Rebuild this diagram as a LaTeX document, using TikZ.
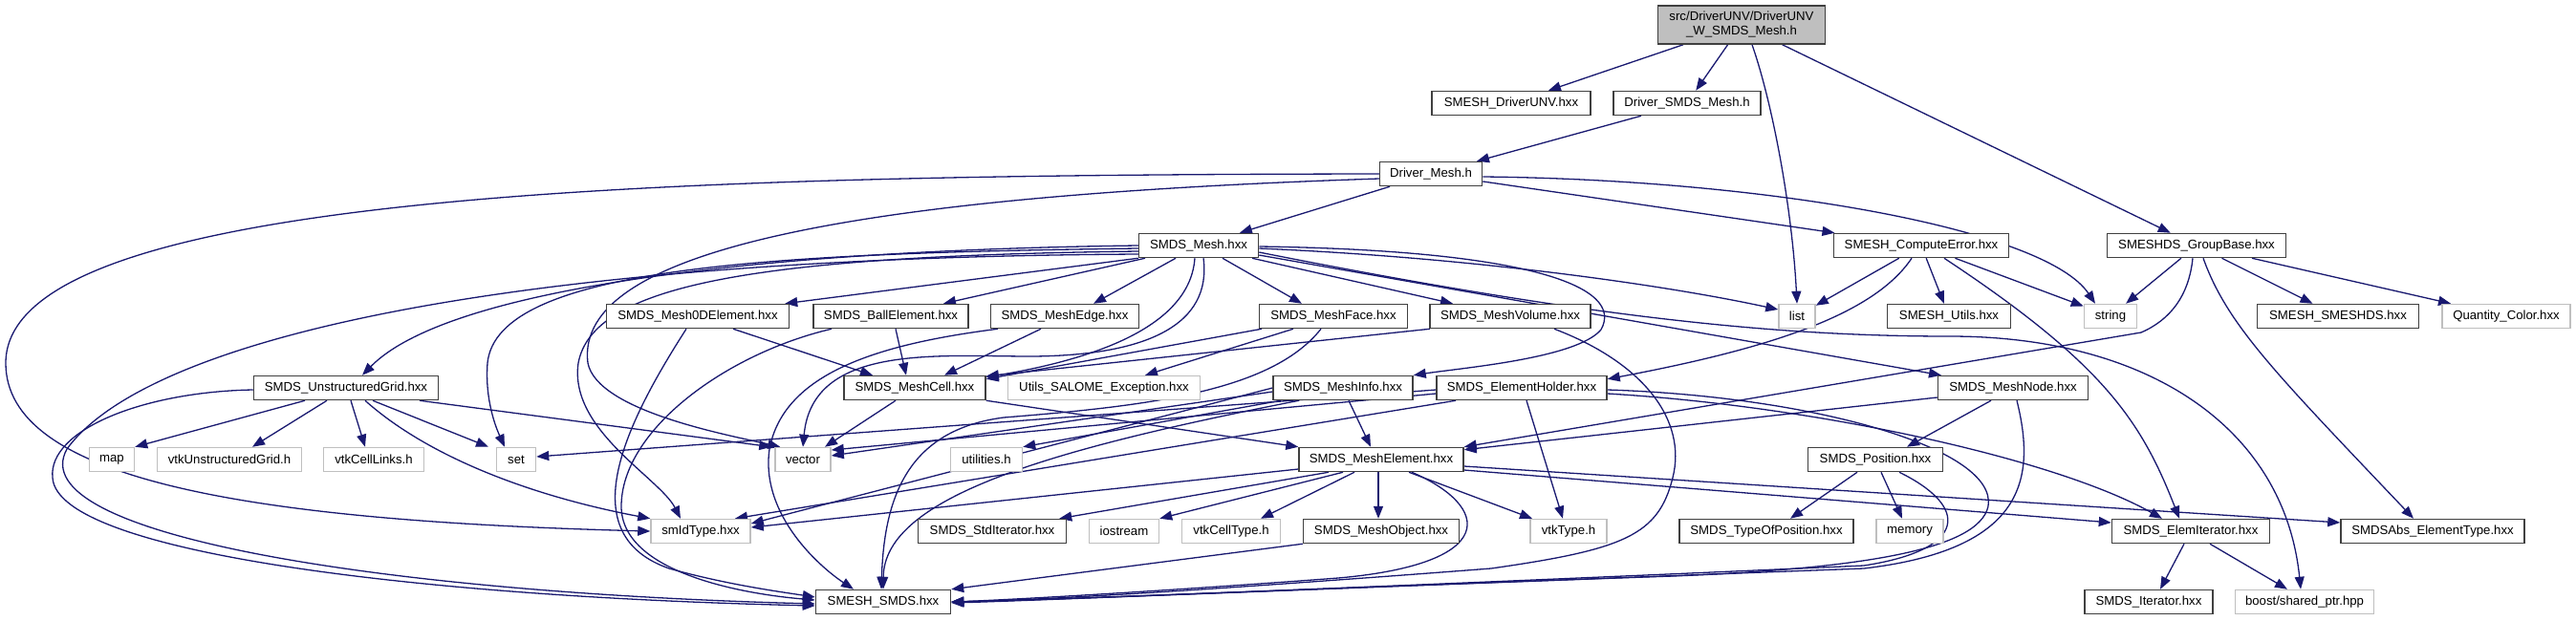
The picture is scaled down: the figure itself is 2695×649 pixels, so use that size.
\documentclass[tikz,border=0pt]{standalone}
\usepackage{fontspec}
\setmainfont{Liberation Sans}
\usetikzlibrary{arrows.meta}
\definecolor{edgeblue}{HTML}{191970}
\definecolor{rootgray}{HTML}{BFBFBF}
\definecolor{sysgray}{HTML}{BFBFBF}
\definecolor{boxline}{HTML}{404040}
\pgfdeclarelayer{bg}
\pgfsetlayers{bg,main}

\begin{document}
\begin{tikzpicture}[x=1pt,y=-1pt,
  hdr/.style={draw=boxline,line width=1.5pt,fill=white,inner sep=0pt,
    minimum height=25pt,font=\fontsize{13.2}{15}\selectfont},
  sys/.style={hdr,draw=sysgray},
  inc/.style={color=edgeblue,line width=1.3pt,-{Triangle[length=13pt,width=10pt]}}
]
\useasboundingbox (0,0) rectangle (2695,649);

% rows 1-3
\node[hdr,fill=rootgray,minimum width=175pt,minimum height=40pt,align=center] (root) at (1822,26) {src/DriverUNV/DriverUNV\\\_W\_SMDS\_Mesh.h};
\node[hdr,minimum width=166pt] (drvunv) at (1581,108) {SMESH\_DriverUNV.hxx};
\node[hdr,minimum width=154pt] (drvsmds) at (1765,108) {Driver\_SMDS\_Mesh.h};
\node[hdr,minimum width=107pt] (drvmesh) at (1497,182) {Driver\_Mesh.h};

% row 4
\node[hdr,minimum width=125pt] (mesh) at (1254,257) {SMDS\_Mesh.hxx};
\node[hdr,minimum width=183pt] (comperr) at (2010,257) {SMESH\_ComputeError.hxx};
\node[hdr,minimum width=187pt] (grpbase) at (2298,257) {SMESHDS\_GroupBase.hxx};

% row 5
\node[hdr,minimum width=191pt] (m0d) at (730,331) {SMDS\_Mesh0DElement.hxx};
\node[hdr,minimum width=162pt] (ball) at (932,331) {SMDS\_BallElement.hxx};
\node[hdr,minimum width=155pt] (edge) at (1114,331) {SMDS\_MeshEdge.hxx};
\node[hdr,minimum width=155pt] (face) at (1395,331) {SMDS\_MeshFace.hxx};
\node[hdr,minimum width=168pt] (volume) at (1580,331) {SMDS\_MeshVolume.hxx};
\node[sys,minimum width=38pt] (list) at (1880,331) {list};
\node[hdr,minimum width=129pt] (utils) at (2039,331) {SMESH\_Utils.hxx};
\node[sys,minimum width=55pt] (string) at (2208,331) {string};
\node[hdr,minimum width=169pt] (smeshds) at (2446,331) {SMESH\_SMESHDS.hxx};
\node[sys,minimum width=134pt] (qcolor) at (2622,331) {Quantity\_Color.hxx};

% row 6
\node[hdr,minimum width=193pt] (ugrid) at (362,406) {SMDS\_UnstructuredGrid.hxx};
\node[hdr,minimum width=148pt] (cell) at (957,406) {SMDS\_MeshCell.hxx};
\node[sys,minimum width=201pt] (exc) at (1155,406) {Utils\_SALOME\_Exception.hxx};
\node[hdr,minimum width=146pt] (info) at (1405,406) {SMDS\_MeshInfo.hxx};
\node[hdr,minimum width=178pt] (holder) at (1592,406) {SMDS\_ElementHolder.hxx};
\node[hdr,minimum width=157pt] (node) at (2106,406) {SMDS\_MeshNode.hxx};

% row 7
\node[sys,minimum width=47pt] (map) at (117,481) {map};
\node[sys,minimum width=151pt] (vtkug) at (240,481) {vtkUnstructuredGrid.h};
\node[sys,minimum width=105pt] (links) at (391,481) {vtkCellLinks.h};
\node[sys,minimum width=41pt] (set) at (540,481) {set};
\node[sys,minimum width=58pt] (vector) at (840,481) {vector};
\node[sys,minimum width=75pt] (utilities) at (1032,481) {utilities.h};
\node[hdr,minimum width=172pt] (elem) at (1445,481) {SMDS\_MeshElement.hxx};
\node[hdr,minimum width=141pt] (pos) at (1962,481) {SMDS\_Position.hxx};

% row 8
\node[sys,minimum width=104pt] (idtype) at (733,556) {smIdType.hxx};
\node[hdr,minimum width=155pt] (stditer) at (1038,556) {SMDS\_StdIterator.hxx};
\node[sys,minimum width=73pt] (iostream) at (1176,556) {iostream};
\node[sys,minimum width=103pt] (celltype) at (1288,556) {vtkCellType.h};
\node[hdr,minimum width=163pt] (object) at (1445,556) {SMDS\_MeshObject.hxx};
\node[sys,minimum width=80pt] (vtktype) at (1641,556) {vtkType.h};
\node[hdr,minimum width=182pt] (typepos) at (1848,556) {SMDS\_TypeOfPosition.hxx};
\node[sys,minimum width=70pt] (memory) at (1998,556) {memory};
\node[hdr,minimum width=165pt] (elemiter) at (2292,556) {SMDS\_ElemIterator.hxx};
\node[hdr,minimum width=192pt] (abstype) at (2545,556) {SMDSAbs\_ElementType.hxx};

% row 9
\node[hdr,minimum width=141pt] (smds) at (924,630) {SMESH\_SMDS.hxx};
\node[hdr,minimum width=134pt] (iter) at (2248,630) {SMDS\_Iterator.hxx};
\node[sys,minimum width=145pt] (sharedptr) at (2411,630) {boost/shared\_ptr.hpp};

\begin{pgfonlayer}{bg}
\fill[white] (0,0) rectangle (2695,649);
% top part
\draw[inc] (root) -- (drvunv);
\draw[inc] (root) -- (drvsmds);
\draw[inc] ([xshift=11pt]root.south) .. controls (1855,110) and (1875,220) .. (list.north);
\draw[inc] (root) -- (grpbase);
\draw[inc] (drvsmds) -- (drvmesh);
\draw[inc] (drvmesh) -- (mesh);
\draw[inc] (drvmesh) -- (comperr);
\draw[inc] ([yshift=-3pt]drvmesh.east) .. controls (1850,188) and (2140,240) .. ([xshift=-16pt]string.north);
\draw[inc] ([yshift=-5pt]drvmesh.west) .. controls (900,205) and (600,260) .. (615,380) .. controls (625,430) and (760,455) .. ([xshift=6pt]vector.north west);
\draw[inc] (drvmesh.west) .. controls (700,183) and (6,200) .. (6,380) .. controls (6,500) and (250,545) .. (idtype.west);

% compute error, group base
\draw[inc] (comperr) -- (list);
\draw[inc] (comperr) -- (utils);
\draw[inc] (comperr) -- (string);
\draw[inc] ([xshift=-10pt]comperr.south) .. controls (1960,330) and (1850,365) .. ([yshift=-4pt]holder.north east);
\draw[inc] ([xshift=24pt]comperr.south) .. controls (2200,380) and (2240,440) .. ([xshift=-12pt]elemiter.north);
\draw[inc] (grpbase) -- (string);
\draw[inc] (grpbase) -- (smeshds);
\draw[inc] (grpbase) -- (qcolor);
\draw[inc] ([xshift=-4pt]grpbase.south) .. controls (2290,310) and (2270,335) .. (2240,348) -- (elem.north east);
\draw[inc] ([xshift=7pt]grpbase.south) .. controls (2330,340) and (2380,390) .. ([xshift=-20pt]abstype.north);

% SMDS_Mesh
\draw[inc] (mesh.south west) -- ([xshift=-5pt]m0d.north east);
\draw[inc] ([xshift=-56pt]mesh.south) -- ([xshift=55pt]ball.north);
\draw[inc] ([xshift=-24pt]mesh.south) -- ([xshift=30pt]edge.north);
\draw[inc] ([xshift=25pt]mesh.south) -- ([xshift=-33pt]face.north);
\draw[inc] ([xshift=56pt]mesh.south) -- ([xshift=-60pt]volume.north);
\draw[inc] ([xshift=-4pt]mesh.south) .. controls (1245,340) and (1150,375) .. ([yshift=-2pt]cell.north east);
\draw[inc] ([xshift=5pt]mesh.south) .. controls (1268,340) and (1200,372) .. (1080,373) .. controls (980,373) and (850,360) .. (vector.north);
\draw[inc] (mesh.west) .. controls (800,262) and (470,300) .. ([xshift=17pt]ugrid.north);
\draw[inc] ([yshift=-3pt]mesh.west) .. controls (800,265) and (520,280) .. (510,380) .. controls (507,420) and (520,450) .. ([xshift=-12pt]set.north);
\draw[inc] ([yshift=-6pt]mesh.west) .. controls (780,268) and (620,300) .. (605,380) .. controls (595,450) and (690,500) .. ([xshift=-21pt]idtype.north);
\draw[inc] ([yshift=-9pt]mesh.west) .. controls (500,270) and (150,360) .. (70,470) .. controls (20,560) and (400,620) .. ([yshift=-2pt]smds.west);
\draw[inc] ([yshift=-3pt]mesh.east) .. controls (1550,270) and (1750,300) .. ([yshift=7pt]list.west);
\draw[inc] ([yshift=-1pt]mesh.east) .. controls (1600,262) and (1700,300) .. (1675,345) .. controls (1650,375) and (1530,385) .. (info.north east);
\draw[inc] ([yshift=-10pt]mesh.east) -- ([xshift=-75pt]node.north);
\draw[inc] ([yshift=-7pt]mesh.east) .. controls (1650,330) and (1850,352) .. (2040,352) .. controls (2250,352) and (2390,450) .. ([xshift=-4pt]sharedptr.north);

% element headers
\draw[inc] ([xshift=37pt]m0d.south) -- ([xshift=-44pt]cell.north);
\draw[inc] ([xshift=-12pt]m0d.south) .. controls (650,450) and (600,560) .. (700,595) .. controls (760,612) and (820,620) .. ([yshift=5pt]smds.west);
\draw[inc] ([xshift=5pt]ball.south) -- ([xshift=-9pt]cell.north);
\draw[inc] ([xshift=-62pt]ball.south) .. controls (760,370) and (650,450) .. (650,530) .. controls (650,600) and (780,622) .. ([yshift=2pt]smds.west);
\draw[inc] ([xshift=-25pt]edge.south) -- ([xshift=31pt]cell.north);
\draw[inc] ([xshift=-70pt]edge.south) .. controls (920,360) and (820,390) .. (805,470) .. controls (795,540) and (860,595) .. ([xshift=-31pt]smds.north);
\draw[inc] ([xshift=-75pt]face.south) -- ([yshift=-4pt]cell.north east);
\draw[inc] ([xshift=-42pt]face.south) -- ([xshift=43pt]exc.north);
\draw[inc] ([xshift=-13pt]face.south) .. controls (1330,410) and (1200,425) .. (1050,437) .. controls (950,450) and (925,520) .. ([xshift=-2pt]smds.north);
\draw[inc] ([xshift=-84pt]volume.south) -- ([yshift=-1pt]cell.north east);
\draw[inc] ([xshift=46pt]volume.south) .. controls (1720,380) and (1765,440) .. (1750,500) .. controls (1735,560) and (1700,575) .. (1560,595) .. controls (1300,615) and (1100,628) .. (smds.east);

% unstructured grid
\draw[inc] ([xshift=-43pt]ugrid.south) -- (map.north east);
\draw[inc] ([xshift=-20pt]ugrid.south) -- ([xshift=24pt]vtkug.north);
\draw[inc] ([xshift=5pt]ugrid.south) -- ([xshift=-9pt]links.north);
\draw[inc] ([xshift=28pt]ugrid.south) -- ([xshift=-29pt]set.north);
\draw[inc] ([xshift=77pt]ugrid.south) -- ([xshift=-3pt]vector.north west);
\draw[inc] ([xshift=20pt]ugrid.south) .. controls (450,480) and (560,520) .. (idtype.north west);
\draw[inc] ([yshift=-2pt]ugrid.west) .. controls (150,410) and (50,450) .. (55,500) .. controls (60,580) and (450,625) .. ([yshift=-4pt]smds.west);

% cell, info, holder
\draw[inc] (cell.south east) -- (elem.north west);
\draw[inc] ([xshift=-20pt]cell.south) -- ([xshift=23pt]vector.north);
\draw[inc] ([xshift=6pt]info.south) -- ([xshift=-11pt]elem.north);
\draw[inc] ([xshift=-65pt]info.south) -- (utilities.north east);
\draw[inc] ([xshift=-46pt]info.south) .. controls (1100,470) and (925,520) .. (smds.north);
\draw[inc] ([yshift=-4pt]info.west) -- ([yshift=4pt]vector.east);
\draw[inc] (info.west) -- ([yshift=8pt]idtype.east);
\draw[inc] ([xshift=-69pt]holder.south) -- ([xshift=36pt]idtype.north);
\draw[inc] ([yshift=-2pt]holder.west) -- ([yshift=3pt]set.east);
\draw[inc] ([yshift=-6pt]holder.west) -- ([yshift=10pt]vector.east);
\draw[inc] ([xshift=5pt]holder.south) -- ([xshift=-6pt]vtktype.north);
\draw[inc] ([yshift=-2pt]holder.east) .. controls (1900,415) and (2090,470) .. (2080,530) .. controls (2070,575) and (1950,595) .. (1750,603) .. controls (1400,615) and (1100,628) .. ([yshift=-1pt]smds.east);
\draw[inc] ([yshift=-6pt]holder.east) .. controls (1900,425) and (2150,480) .. ([xshift=-30pt]elemiter.north);

% node, position
\draw[inc] ([yshift=-10pt]node.west) -- ([yshift=-3pt]elem.north east);
\draw[inc] ([xshift=-23pt]node.south) -- ([xshift=33pt]pos.north);
\draw[inc] ([xshift=4pt]node.south) .. controls (2130,500) and (2120,575) .. (1950,595) .. controls (1500,612) and (1100,628) .. (smds.east);
\draw[inc] ([xshift=-19pt]pos.south) -- ([xshift=25pt]typepos.north);
\draw[inc] ([xshift=6pt]pos.south) -- ([xshift=-8pt]memory.north);
\draw[inc] ([xshift=25pt]pos.south) .. controls (2060,530) and (2060,575) .. (1950,592) .. controls (1500,612) and (1100,628) .. (smds.east);

% mesh element
\draw[inc] ([xshift=-55pt]elem.south) -- ([xshift=-8pt]stditer.north east);
\draw[inc] ([xshift=-40pt]elem.south) -- (iostream.north east);
\draw[inc] ([xshift=-28pt]elem.south) -- ([xshift=31pt]celltype.north);
\draw[inc] ([xshift=-3pt]elem.south) -- ([xshift=-3pt]object.north);
\draw[inc] ([xshift=29pt]elem.south) -- ([xshift=-38pt]vtktype.north);
\draw[inc] ([xshift=32pt]elem.south) .. controls (1560,530) and (1570,590) .. (1400,605) .. controls (1200,620) and (1050,628) .. (smds.east);
\draw[inc] ([yshift=-10pt]elem.west) -- ([yshift=4pt]idtype.east);
\draw[inc] ([yshift=-7pt]elem.east) -- ([yshift=9pt]abstype.west);
\draw[inc] ([yshift=-11pt]elem.east) -- ([yshift=9pt]elemiter.west);
\draw[inc] (object.south west) -- (smds.north east);
\draw[inc] ([xshift=-7pt]elemiter.south) -- ([xshift=12pt]iter.north);
\draw[inc] ([xshift=20pt]elemiter.south) -- ([xshift=-18pt]sharedptr.north);
\end{pgfonlayer}
\end{tikzpicture}
\end{document}
